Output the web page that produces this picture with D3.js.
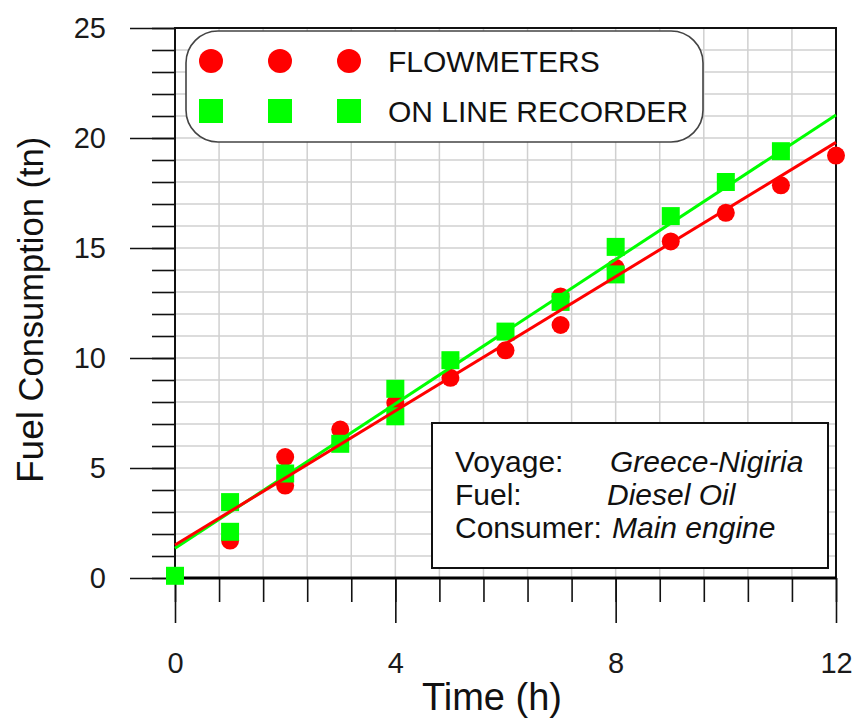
<!DOCTYPE html>
<html lang="en">
	<head>
		<meta charset="utf-8">
		<title>fuel consumption</title>
		<script type="text/javascript" src="https://cdn.jsdelivr.net/npm/d3@7"></script>
		<style type="text/css">
			body{margin:0;background:#fff}
			text{font-family:"Liberation Sans",Arial,sans-serif}
		</style>
	</head>
	<body>
		<div id="chart"></div>
		<script type="text/javascript">

// flowmeters (red circles)
var flowT = [1,2,2,3,4,5,6,7,7,8,9,10,11,12]
var flowV = [1.7,5.5,4.2,6.75,7.95,9.1,10.35,12.8,11.5,14.1,15.3,16.6,17.85,19.2]
// on line recorder (green squares)
var recT = [0,1,1,2,3,4,4,5,6,7,8,8,9,10,11]
var recV = [0.1,3.45,2.1,4.75,6.1,8.6,7.35,9.9,11.2,12.55,15.05,13.8,16.45,18.0,19.4]
// fitted lines, value at t=0 and t=12
var fitT = [0,12]
var flowFit = [1.5,19.8]
var recFit = [1.35,21.05]

var xTicks = [0,4,8,12]
var yTicks = [0,5,10,15,20,25]
var seriesNames = ["FLOWMETERS","ON LINE RECORDER"]
var infoLabels = ["Voyage:","Fuel:","Consumer:"]
var infoValues = ["Greece-Nigiria","Diesel Oil","Main engine"]
var infoX = [610,607,612]

var red = "#ff0000"
var green = "#00ff00"

var w = 853
var h = 720

var svg = d3.select("#chart")
	.append("svg")
	.attr("width",w)
	.attr("height",h)

var xScale = d3.scaleLinear().domain([0,12]).range([175,836])
var yScale = d3.scaleLinear().domain([0,25]).range([578,28])

var xMinor = d3.range(0,12.0001,0.8)
var yMinor = d3.range(0,25.0001,1)

//grid
svg.append("g")
	.selectAll("line")
	.data(xMinor)
	.enter()
	.append("line")
	.attr("x1",function(d){return xScale(d)})
	.attr("x2",function(d){return xScale(d)})
	.attr("y1",yScale(0))
	.attr("y2",yScale(25))
	.attr("stroke","#d0d0d0")
	.attr("stroke-width",1.5)

svg.append("g")
	.selectAll("line")
	.data(yMinor)
	.enter()
	.append("line")
	.attr("x1",xScale(0))
	.attr("x2",xScale(12))
	.attr("y1",function(d){return yScale(d)})
	.attr("y2",function(d){return yScale(d)})
	.attr("stroke","#d0d0d0")
	.attr("stroke-width",1.5)

//axes
var xAxisMinor = d3.axisBottom(xScale).tickValues(xMinor).tickSize(24).tickFormat("")
var xAxisMajor = d3.axisBottom(xScale).tickValues(xTicks).tickSize(45).tickPadding(29).tickFormat(d3.format("d"))
var yAxisMinor = d3.axisLeft(yScale).tickValues(yMinor).tickSize(23).tickFormat("")
var yAxisMajor = d3.axisLeft(yScale).tickValues(yTicks).tickSize(45).tickPadding(24)

svg.append("g").attr("transform","translate(0,578)").call(xAxisMinor)
svg.append("g").attr("transform","translate(0,578)").call(xAxisMajor)
svg.append("g").attr("transform","translate(175,0)").call(yAxisMinor)
svg.append("g").attr("transform","translate(175,0)").call(yAxisMajor)

svg.selectAll(".domain").remove()
svg.selectAll(".tick line").attr("stroke","#111").attr("stroke-width",1.6)
svg.selectAll(".tick text")
	.attr("font-size",29)
	.attr("fill","#1a1a1a")
	.style("font-family","'Liberation Sans',Arial,sans-serif")

//frame
svg.append("rect")
	.attr("x",xScale(0))
	.attr("y",yScale(25))
	.attr("width",xScale(12)-xScale(0))
	.attr("height",yScale(0)-yScale(25))
	.attr("fill","none")
	.attr("stroke","#111")
	.attr("stroke-width",2)
svg.append("line")
	.attr("x1",xScale(0))
	.attr("x2",xScale(12))
	.attr("y1",yScale(0))
	.attr("y2",yScale(0))
	.attr("stroke","#000")
	.attr("stroke-width",3)

//markers
var flowData = flowT.map(function(t,i){return {t:t,v:flowV[i]}})
var recData = recT.map(function(t,i){return {t:t,v:recV[i]}})

svg.append("g")
	.selectAll("circle")
	.data(flowData)
	.enter()
	.append("circle")
	.attr("cx",function(d){return xScale(d.t)})
	.attr("cy",function(d){return yScale(d.v)})
	.attr("r",9)
	.attr("fill",red)

var sq = 18
svg.append("g")
	.selectAll("rect")
	.data(recData)
	.enter()
	.append("rect")
	.attr("x",function(d){return xScale(d.t)-sq/2})
	.attr("y",function(d){return yScale(d.v)-sq/2})
	.attr("width",sq)
	.attr("height",sq)
	.attr("fill",green)

//fit lines
var line = d3.line()
	.x(function(d){return xScale(d.t)})
	.y(function(d){return yScale(d.v)})

svg.append("path")
	.datum(fitT.map(function(t,i){return {t:t,v:recFit[i]}}))
	.attr("d",line)
	.attr("fill","none")
	.attr("stroke",green)
	.attr("stroke-width",3)

svg.append("path")
	.datum(fitT.map(function(t,i){return {t:t,v:flowFit[i]}}))
	.attr("d",line)
	.attr("fill","none")
	.attr("stroke",red)
	.attr("stroke-width",3)

//legend
svg.append("rect")
	.attr("x",186)
	.attr("y",31)
	.attr("width",517)
	.attr("height",111)
	.attr("rx",32)
	.attr("ry",32)
	.attr("fill","#fff")
	.attr("stroke","#444")
	.attr("stroke-width",1.6)

var legendX = [211,280,349]
legendX.forEach(function(x){
	svg.append("circle").attr("cx",x).attr("cy",61).attr("r",12).attr("fill",red)
	svg.append("rect").attr("x",x-12).attr("y",99).attr("width",24).attr("height",24).attr("fill",green)
})
svg.selectAll(".legendText")
	.data(seriesNames)
	.enter()
	.append("text")
	.attr("class","legendText")
	.attr("x",388)
	.attr("y",function(d,i){return 72+i*50})
	.attr("font-size",30)
	.attr("fill","#111")
	.text(function(d){return d})

//info box
svg.append("rect")
	.attr("x",432)
	.attr("y",423)
	.attr("width",396)
	.attr("height",145)
	.attr("fill","#fff")
	.attr("stroke","#111")
	.attr("stroke-width",2)

infoLabels.forEach(function(l,i){
	svg.append("text")
		.attr("x",455)
		.attr("y",472+i*33)
		.attr("font-size",30)
		.attr("fill","#111")
		.text(l)
	svg.append("text")
		.attr("x",infoX[i])
		.attr("y",472+i*33)
		.attr("font-size",30)
		.attr("font-style","italic")
		.attr("fill","#111")
		.text(infoValues[i])
})

//axis titles
svg.append("text")
	.attr("x",492)
	.attr("y",710)
	.attr("text-anchor","middle")
	.attr("font-size",38)
	.attr("fill","#111")
	.text("Time (h)")

var yTitle = svg.append("text")
	.attr("transform","translate(43,483) rotate(-90)")
	.attr("fill","#111")
yTitle.append("tspan").attr("font-size",37).text("Fuel")
yTitle.append("tspan").attr("font-size",34.5).text(" Consumption (tn)")

		</script>
	</body>
</html>
